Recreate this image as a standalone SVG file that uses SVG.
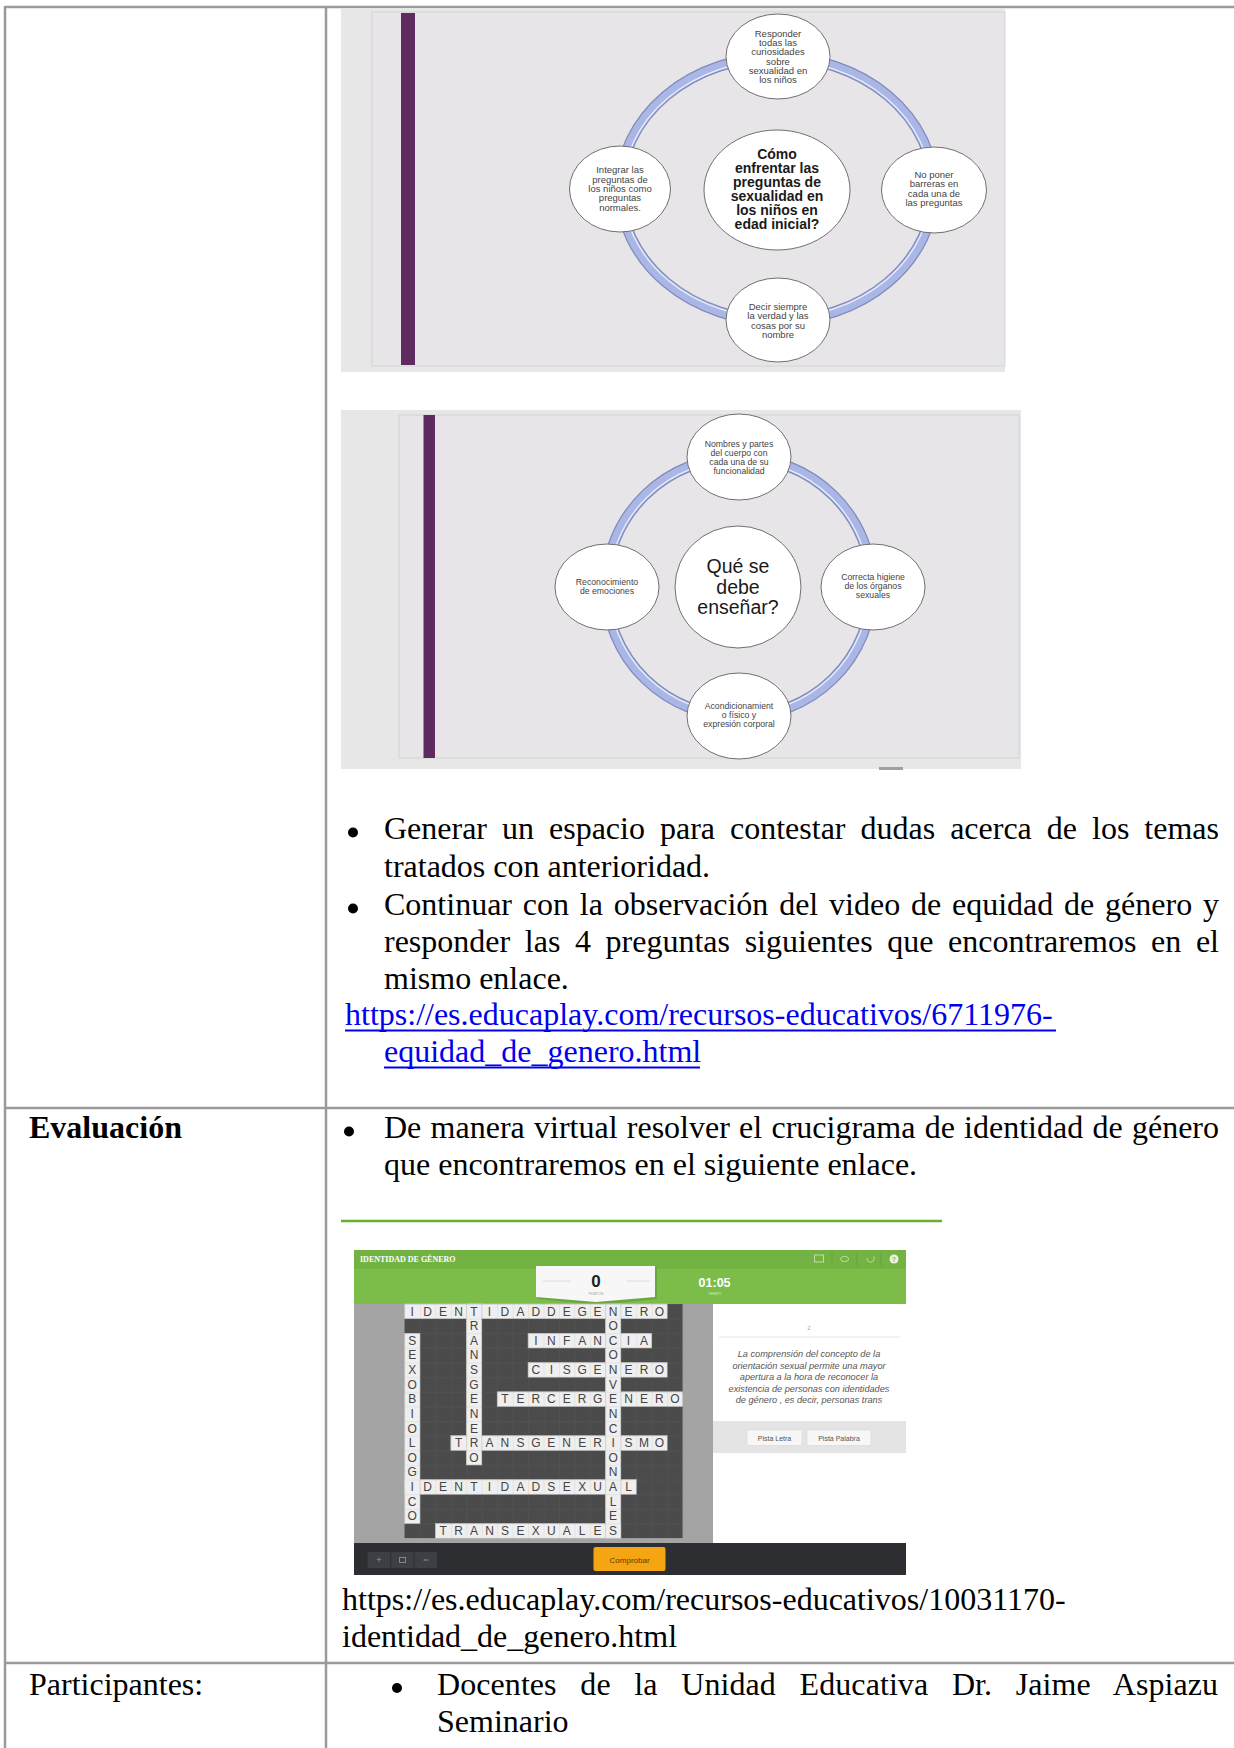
<svg xmlns="http://www.w3.org/2000/svg" width="1234" height="1748" viewBox="0 0 1234 1748">
<style>
.tl{stroke:#9a9a9a;stroke-width:2.5;fill:none}
.body{font-family:"Liberation Serif","Times New Roman",serif;font-size:32px;fill:#000}
.bold{font-weight:bold}
.link{fill:#0000ee}
.ul{stroke:#0000ee;stroke-width:2}
.bul{fill:#000}
.sbg{fill:#e7e7e7}
.sin{fill:#e8e5e9;stroke:#d4d4d4;stroke-width:1}
.pur{fill:#5f2b5e}
.ringo{fill:none;stroke:#7f8cba;stroke-width:11}
.ringi{fill:none;stroke:#aab6e6;stroke-width:8.5}
.ringh{fill:none;stroke:#ffffff;stroke-width:1.3;opacity:.75}
.node{fill:#ffffff;stroke:#6f6f6f;stroke-width:1}
.st{font-family:"Liberation Sans",Arial,sans-serif;font-size:9.5px;fill:#444;text-anchor:middle}
.st2{font-family:"Liberation Sans",Arial,sans-serif;font-size:8.7px;fill:#444;text-anchor:middle}
.ct{font-family:"Liberation Sans",Arial,sans-serif;font-size:14px;font-weight:bold;fill:#1a1a1a;text-anchor:middle}
.ct2{font-family:"Liberation Sans",Arial,sans-serif;font-size:19.5px;fill:#1a1a1a;text-anchor:middle}
.cell{fill:#efefef;stroke:#cfcfcf;stroke-width:.6}
.lt{font-family:"Liberation Sans",Arial,sans-serif;font-size:12px;fill:#444;text-anchor:middle}
.it{font-family:"Liberation Sans",Arial,sans-serif;font-size:9.2px;font-style:italic;fill:#555;text-anchor:middle}
.ui{font-family:"Liberation Sans",Arial,sans-serif;text-anchor:middle}
</style>
<defs>
<pattern id="dark" patternUnits="userSpaceOnUse" x="404.5" y="1304" width="15.45" height="14.63">
<rect width="15.45" height="14.63" fill="#4b4b4b"/>
<path d="M0 0H15.45M0 0V14.63" stroke="#5e5e5e" stroke-width="1"/>
</pattern>
<pattern id="lines" patternUnits="userSpaceOnUse" x="404.5" y="1304" width="15.45" height="14.63">
<path d="M0 0H15.45M0 0V14.63" stroke="#000" stroke-opacity=".12" stroke-width=".8" fill="none"/>
</pattern>
</defs>
<rect width="1234" height="1748" fill="#ffffff"/>

<g id="slide1">
<rect class="sbg" x="341" y="9" width="664" height="363"/>
<rect class="sin" x="372" y="12" width="633" height="354"/>
<rect class="pur" x="401" y="13" width="14" height="352"/>
<g id="ring1">
<ellipse class="ringo" cx="777" cy="189" rx="157" ry="132"/>
<ellipse class="ringi" cx="777" cy="189" rx="157" ry="132"/>
<ellipse class="ringh" cx="777" cy="189" rx="154" ry="129"/>
</g>
<g id="s1-center">
<ellipse class="node" cx="777" cy="190" rx="73" ry="60"/>
<text class="ct"><tspan x="777" y="159">Cómo</tspan><tspan x="777" y="173.3">enfrentar las</tspan><tspan x="777" y="187.3">preguntas de</tspan><tspan x="777" y="201">sexualidad en</tspan><tspan x="777" y="215">los niños en</tspan><tspan x="777" y="229">edad inicial?</tspan></text>
</g>
<g id="s1-top">
<ellipse class="node" cx="778" cy="56.5" rx="52" ry="42.5"/>
<text class="st"><tspan x="778" y="36.6">Responder</tspan><tspan x="778" y="46">todas las</tspan><tspan x="778" y="55.3">curiosidades</tspan><tspan x="778" y="64.6">sobre</tspan><tspan x="778" y="74">sexualidad en</tspan><tspan x="778" y="83.3">los niños</tspan></text>
</g>
<g id="s1-left">
<ellipse class="node" cx="620" cy="189" rx="50.5" ry="43"/>
<text class="st"><tspan x="620" y="173.3">Integrar las</tspan><tspan x="620" y="182.6">preguntas de</tspan><tspan x="620" y="192">los niños como</tspan><tspan x="620" y="201.3">preguntas</tspan><tspan x="620" y="210.6">normales.</tspan></text>
</g>
<g id="s1-right">
<ellipse class="node" cx="934" cy="190" rx="52.5" ry="43"/>
<text class="st"><tspan x="934" y="178">No poner</tspan><tspan x="934" y="187.3">barreras en</tspan><tspan x="934" y="196.6">cada una de</tspan><tspan x="934" y="206">las preguntas</tspan></text>
</g>
<g id="s1-bottom">
<ellipse class="node" cx="778" cy="320" rx="52" ry="42"/>
<text class="st"><tspan x="778" y="310">Decir siempre</tspan><tspan x="778" y="319.3">la verdad y las</tspan><tspan x="778" y="328.6">cosas por su</tspan><tspan x="778" y="338">nombre</tspan></text>
</g>
</g>

<g id="slide2">
<rect class="sbg" x="341" y="410" width="680" height="359"/>
<rect class="sin" x="399" y="415" width="620" height="343"/>
<rect class="pur" x="423.5" y="415" width="11.5" height="343"/>
<rect x="879" y="767" width="24" height="3" fill="#a0a0a0"/>
<g id="ring2">
<ellipse class="ringo" cx="739" cy="587" rx="133" ry="130"/>
<ellipse class="ringi" cx="739" cy="587" rx="133" ry="130"/>
<ellipse class="ringh" cx="739" cy="587" rx="130" ry="127"/>
</g>
<g id="s2-center">
<ellipse class="node" cx="738" cy="587" rx="63" ry="61"/>
<text class="ct2"><tspan x="738" y="573">Qué se</tspan><tspan x="738" y="594">debe</tspan><tspan x="738" y="614">enseñar?</tspan></text>
</g>
<g id="s2-top">
<ellipse class="node" cx="739" cy="457" rx="52" ry="43"/>
<text class="st2"><tspan x="739" y="447">Nombres y partes</tspan><tspan x="739" y="456">del cuerpo con</tspan><tspan x="739" y="465">cada una de su</tspan><tspan x="739" y="474">funcionalidad</tspan></text>
</g>
<g id="s2-left">
<ellipse class="node" cx="607" cy="587" rx="52" ry="43"/>
<text class="st2"><tspan x="607" y="585">Reconocimiento</tspan><tspan x="607" y="594">de emociones</tspan></text>
</g>
<g id="s2-right">
<ellipse class="node" cx="873" cy="587" rx="52" ry="43"/>
<text class="st2"><tspan x="873" y="580">Correcta higiene</tspan><tspan x="873" y="589">de los órganos</tspan><tspan x="873" y="598">sexuales</tspan></text>
</g>
<g id="s2-bottom">
<ellipse class="node" cx="739" cy="716" rx="52" ry="43"/>
<text class="st2"><tspan x="739" y="709">Acondicionamient</tspan><tspan x="739" y="718">o físico y</tspan><tspan x="739" y="727">expresión corporal</tspan></text>
</g>
</g>

<g id="activities">
<circle class="bul" cx="353" cy="832.5" r="5"/>
<text class="body" x="384" y="839" word-spacing="7" textLength="835" lengthAdjust="spacing">Generar un espacio para contestar dudas acerca de los temas</text>
<text class="body" x="384" y="877">tratados con anterioridad.</text>
<circle class="bul" cx="353" cy="908.5" r="5"/>
<text class="body" x="384" y="915" word-spacing="2.8" textLength="835" lengthAdjust="spacing">Continuar con la observación del video de equidad de género y</text>
<text class="body" x="384" y="952" word-spacing="6.6" textLength="835" lengthAdjust="spacing">responder las 4 preguntas siguientes que encontraremos en el</text>
<text class="body" x="384" y="989">mismo enlace.</text>
<text class="body link" x="345" y="1025">https://es.educaplay.com/recursos-educativos/6711976-</text>
<line class="ul" x1="345" y1="1030.5" x2="1056" y2="1030.5"/>
<text class="body link" x="384" y="1062">equidad_de_genero.html</text>
<line class="ul" x1="384" y1="1067.5" x2="700" y2="1067.5"/>
</g>

<g id="evaluacion">
<text class="body bold" x="29" y="1138">Evaluación</text>
<circle class="bul" cx="349" cy="1131.5" r="5"/>
<text class="body" x="384" y="1138" word-spacing="1.25" textLength="835" lengthAdjust="spacing">De manera virtual resolver el crucigrama de identidad de género</text>
<text class="body" x="384" y="1175">que encontraremos en el siguiente enlace.</text>
<line x1="341" y1="1221" x2="942" y2="1221" stroke="#6aae2e" stroke-width="2.5"/>
</g>

<g id="crossword">
<rect x="354" y="1250" width="552" height="18" fill="#72b343"/>
<rect x="354" y="1268" width="552" height="36" fill="#7bbd48"/>
<line x1="354" y1="1268" x2="906" y2="1268" stroke="#6aa83c" stroke-width=".6"/>
<text x="360" y="1262" font-family="Liberation Serif, serif" font-size="8" font-weight="bold" fill="#ffffff">IDENTIDAD DE GÉNERO</text>
<g opacity=".55" fill="none" stroke="#ffffff" stroke-width="1">
<line x1="832" y1="1252" x2="832" y2="1266" stroke="#5f9a35"/>
<line x1="857" y1="1252" x2="857" y2="1266" stroke="#5f9a35"/>
<line x1="881" y1="1252" x2="881" y2="1266" stroke="#5f9a35"/>
<rect x="814.5" y="1255" width="9" height="7"/>
<ellipse cx="844.6" cy="1259" rx="4" ry="2.6"/>
<path d="M873.5 1256.5 A3.6 3.6 0 1 1 867 1258"/>
</g>
<circle cx="894" cy="1259" r="4.5" fill="#ffffff" opacity=".85"/>
<text class="ui" x="894" y="1261.6" font-size="7" font-weight="bold" fill="#7bbd48">?</text>
<polygon points="538,1268 657,1268 657,1299 598,1305 538,1299" fill="#000" opacity=".12"/>
<polygon points="536,1266 655,1266 655,1297 596,1302 536,1297" fill="#f7f7f7"/>
<line x1="543" y1="1281" x2="571" y2="1281" stroke="#dedede"/>
<line x1="627" y1="1281" x2="650" y2="1281" stroke="#dedede"/>
<text class="ui" x="596" y="1287" font-size="17" font-weight="bold" fill="#222">0</text>
<text class="ui" x="596" y="1294.5" font-size="3.5" fill="#999">PUNTOS</text>
<text class="ui" x="714.6" y="1286.5" font-size="12.5" font-weight="bold" fill="#ffffff">01:05</text>
<text class="ui" x="714.6" y="1294.5" font-size="3.5" fill="#d4ecc3">TIEMPO</text>
<rect x="354" y="1304" width="359" height="239" fill="#a4a4a4"/>
<rect x="404.5" y="1304" width="278.1" height="234.1" fill="url(#dark)"/>
<g id="cells">
<rect class="cell" x="404.5" y="1304" width="262.65" height="14.63"/>
<rect class="cell" x="528.1" y="1333.3" width="123.6" height="14.63"/>
<rect class="cell" x="528.1" y="1362.5" width="139.05" height="14.63"/>
<rect class="cell" x="497.2" y="1391.8" width="185.4" height="14.63"/>
<rect class="cell" x="450.85" y="1435.7" width="216.3" height="14.63"/>
<rect class="cell" x="404.5" y="1479.6" width="231.75" height="14.63"/>
<rect class="cell" x="435.4" y="1523.5" width="185.4" height="14.63"/>
<rect class="cell" x="466.3" y="1304" width="15.45" height="160.93"/>
<rect class="cell" x="605.35" y="1304" width="15.45" height="234.08"/>
<rect class="cell" x="404.5" y="1333.3" width="15.45" height="190.19"/>
</g>
<rect x="404.5" y="1304" width="278.1" height="234.1" fill="url(#lines)"/>
<g id="letters">
<text class="lt" y="1315.5" x="412.2 427.7 443.1 458.6 474.0 489.5 504.9 520.4 535.8 551.3 566.7 582.2 597.6 613.1 628.5 644.0 659.4">IDENTIDADDEGENERO</text>
<text class="lt" y="1330.1" x="474.0 613.1">RO</text>
<text class="lt" y="1344.8" x="412.2 474.0 535.8 551.3 566.7 582.2 597.6 613.1 628.5 644.0">SAINFANCIA</text>
<text class="lt" y="1359.4" x="412.2 474.0 613.1">ENO</text>
<text class="lt" y="1374" x="412.2 474.0 535.8 551.3 566.7 582.2 597.6 613.1 628.5 644.0 659.4">XSCISGENERO</text>
<text class="lt" y="1388.7" x="412.2 474.0 613.1">OGV</text>
<text class="lt" y="1403.3" x="412.2 474.0 504.9 520.4 535.8 551.3 566.7 582.2 597.6 613.1 628.5 644.0 659.4 674.9">BETERCERGENERO</text>
<text class="lt" y="1417.9" x="412.2 474.0 613.1">INN</text>
<text class="lt" y="1432.5" x="412.2 474.0 613.1">OEC</text>
<text class="lt" y="1447.2" x="412.2 458.6 474.0 489.5 504.9 520.4 535.8 551.3 566.7 582.2 597.6 613.1 628.5 644.0 659.4">LTRANSGENERISMO</text>
<text class="lt" y="1461.8" x="412.2 474.0 613.1">OOO</text>
<text class="lt" y="1476.4" x="412.2 613.1">GN</text>
<text class="lt" y="1491.1" x="412.2 427.7 443.1 458.6 474.0 489.5 504.9 520.4 535.8 551.3 566.7 582.2 597.6 613.1 628.5">IDENTIDADSEXUAL</text>
<text class="lt" y="1505.7" x="412.2 613.1">CL</text>
<text class="lt" y="1520.3" x="412.2 613.1">OE</text>
<text class="lt" y="1535" x="443.1 458.6 474.0 489.5 504.9 520.4 535.8 551.3 566.7 582.2 597.6 613.1">TRANSEXUALES</text>
</g>
<rect x="713" y="1304" width="193" height="239" fill="#ffffff"/>
<text class="ui" x="809" y="1330" font-size="6" fill="#aaa">2</text>
<line x1="719" y1="1337" x2="900" y2="1337" stroke="#e6e6e6"/>
<text class="it"><tspan x="809" y="1357">La comprensión del concepto de la</tspan><tspan x="809" y="1368.5">orientación sexual permite una mayor</tspan><tspan x="809" y="1380">apertura a la hora de reconocer la</tspan><tspan x="809" y="1391.5">existencia de personas con identidades</tspan><tspan x="809" y="1403">de género , es decir, personas trans</tspan></text>
<rect x="713" y="1421" width="193" height="32" fill="#e4e4e4"/>
<rect x="747" y="1430" width="55" height="15.5" rx="1" fill="#f7f7f7" stroke="#d6d6d6" stroke-width=".6"/>
<text class="ui" x="774.5" y="1440.5" font-size="7" fill="#555">Pista Letra</text>
<rect x="807" y="1430" width="64" height="15.5" rx="1" fill="#f7f7f7" stroke="#d6d6d6" stroke-width=".6"/>
<text class="ui" x="839" y="1440.5" font-size="7" fill="#555">Pista Palabra</text>
<rect x="354" y="1543" width="552" height="32" fill="#2c2e32"/>
<rect x="367.6" y="1552" width="69.5" height="16" fill="#3d3f44"/>
<line x1="390.8" y1="1552" x2="390.8" y2="1568" stroke="#2c2e32"/>
<line x1="414" y1="1552" x2="414" y2="1568" stroke="#2c2e32"/>
<text class="ui" x="379" y="1563" font-size="9" fill="#9a9a9a">+</text>
<rect x="399.6" y="1557.5" width="6" height="5" fill="none" stroke="#9a9a9a" stroke-width=".8"/>
<line x1="423.5" y1="1560" x2="428.5" y2="1560" stroke="#9a9a9a" stroke-width=".9"/>
<rect x="593.5" y="1547" width="72" height="24" rx="2" fill="#f5a412"/>
<text class="ui" x="629.6" y="1562.5" font-size="8" fill="#5e3c00">Comprobar</text>
<text class="body" x="342" y="1610">https://es.educaplay.com/recursos-educativos/10031170-</text>
<text class="body" x="342" y="1647">identidad_de_genero.html</text>
</g>

<g id="participantes">
<text class="body" x="29" y="1695">Participantes:</text>
<circle class="bul" cx="397" cy="1688" r="5"/>
<text class="body" x="437" y="1695" word-spacing="15.6" textLength="781" lengthAdjust="spacing">Docentes de la Unidad Educativa Dr. Jaime Aspiazu</text>
<text class="body" x="437" y="1732">Seminario</text>
</g>

<g id="table">
<line class="tl" x1="5" y1="7" x2="1234" y2="7"/>
<line class="tl" x1="5" y1="6" x2="5" y2="1748"/>
<line class="tl" x1="326" y1="6" x2="326" y2="1748"/>
<line class="tl" x1="5" y1="1108" x2="1234" y2="1108"/>
<line class="tl" x1="5" y1="1663" x2="1234" y2="1663"/>
</g>
</svg>
